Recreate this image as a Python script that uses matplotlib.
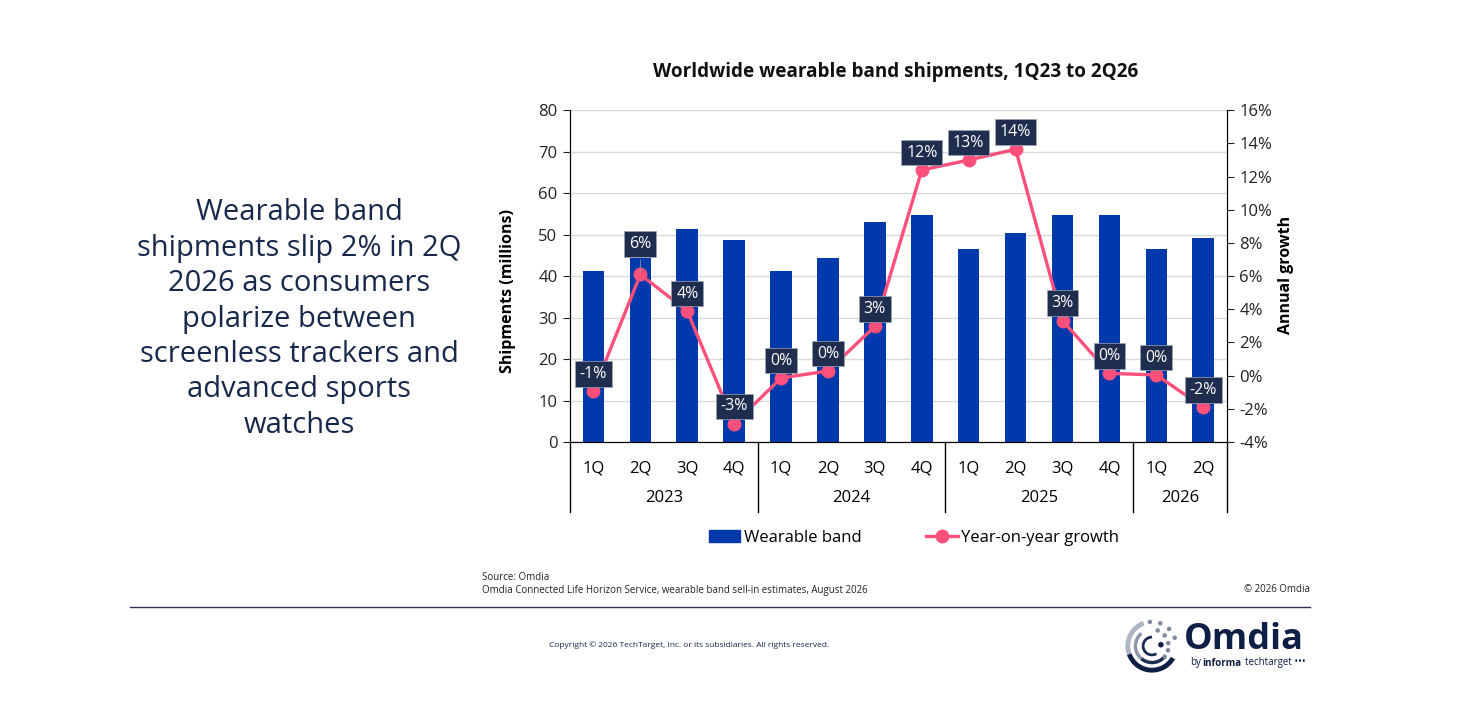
#!/usr/bin/env python3
"""Worldwide wearable band shipments, 1Q23 to 2Q26"""
import math
import matplotlib.pyplot as plt
from matplotlib import transforms
from matplotlib.patches import Arc, Circle, Patch
from matplotlib.lines import Line2D

plt.rcParams["font.family"] = ["Open Sans", "DejaVu Sans"]

quarters = ["1Q", "2Q", "3Q", "4Q", "1Q", "2Q", "3Q", "4Q", "1Q", "2Q", "3Q", "4Q", "1Q", "2Q"]
years = ["2023", "2024", "2025", "2026"]
year_counts = [4, 4, 4, 2]
shipments = [41.2, 44.3, 51.4, 48.6, 41.2, 44.3, 53.1, 54.7, 46.6, 50.4, 54.7, 54.7, 46.6, 49.3]
growth = [-0.94, 6.1, 3.9, -2.9, -0.14, 0.28, 2.98, 12.4, 13.0, 13.65, 3.32, 0.14, 0.04, -1.9]
growth_labels = ["-1%", "6%", "4%", "-3%", "0%", "0%", "3%", "12%", "13%", "14%", "3%", "0%", "0%", "-2%"]

BLUE = "#0039AC"
PINK = "#FF4F7B"
NAVY = "#1F2D4F"
TEXT_NAVY = "#17294B"

W, H = 1470, 716
fig = plt.figure(figsize=(14.7, 7.16), dpi=100)

def fx(px):
    return px / W

def fy(py):
    return 1 - py / H

ax_l, ax_r, ax_t, ax_b = 570, 1226.7, 110.3, 442
ax = fig.add_axes([fx(ax_l), fy(ax_b), fx(ax_r - ax_l), (ax_b - ax_t) / H])
x = list(range(len(shipments)))

ax.bar(x, shipments, width=0.46, color=BLUE, zorder=2)
ax.set_xlim(-0.5, len(x) - 0.5)
ax.set_ylim(0, 80)
ax.set_yticks(range(0, 81, 10))
ax.grid(axis="y", color="#d9d9d9", lw=1)
ax.set_axisbelow(True)
ax.spines["top"].set_visible(False)
ax.tick_params(axis="y", labelsize=12, length=5, colors="#222222", pad=4)
ax.set_xticks(x)
ax.set_xticklabels(quarters, fontsize=12)
ax.tick_params(axis="x", length=0, pad=13)

# year group labels and separators
trans = transforms.blended_transform_factory(ax.transData, ax.transAxes)
sep_depth = -(512 - ax_b) / (ax_b - ax_t)
start = 0
for yr, n in zip(years, year_counts):
    ax.text(start + (n - 1) / 2, -(498 - ax_b) / (ax_b - ax_t), yr, transform=trans,
            ha="center", va="center", fontsize=12)
    ax.plot([start - 0.5, start - 0.5], [0, sep_depth], transform=trans, color="black",
            lw=1, clip_on=False)
    start += n
ax.plot([start - 0.5, start - 0.5], [0, sep_depth], transform=trans, color="black",
        lw=1, clip_on=False)

ax2 = ax.twinx()
ax2.set_ylim(-4, 16)
ax2.set_yticks(range(-4, 17, 2))
ax2.set_yticklabels([f"{v}%" for v in range(-4, 17, 2)])
ax2.tick_params(axis="y", labelsize=12, length=5, colors="#222222", pad=4)
ax2.spines["top"].set_visible(False)
ax2.plot(x, growth, color=PINK, lw=2.4, marker="o", ms=9, zorder=3)

for i, (g, lab) in enumerate(zip(growth, growth_labels)):
    off = 22 if i == 1 else 12.5
    ax2.annotate(lab, xy=(i, g), xytext=(0, off), textcoords="offset points",
                 ha="center", va="center", color="white", fontsize=11.5, zorder=5,
                 bbox=dict(boxstyle="square,pad=0.3", fc=NAVY, ec="#9aa3b5", lw=0.5),
                 arrowprops=dict(arrowstyle="-", color="#999999", lw=0.6) if i == 1 else None)

fig.text(fx(508), fy(291), "Shipments (millions)", rotation=90, ha="center", va="center",
         fontsize=11.5, fontweight="bold")
fig.text(fx(1286), fy(275), "Annual growth", rotation=90, ha="center", va="center",
         fontsize=11.5, fontweight="bold")

fig.text(fx(896), fy(72), "Worldwide wearable band shipments, 1Q23 to 2Q26", ha="center",
         va="center", fontsize=13.6, fontweight="bold", color="#111111")

handles = [Patch(color=BLUE), Line2D([0], [0], color=PINK, lw=2.4, marker="o", ms=9)]
fig.legend(handles, ["Wearable band", "Year-on-year growth"], loc="center",
           bbox_to_anchor=(fx(914), fy(538)), ncol=2, frameon=False, fontsize=12,
           handlelength=1.9, handletextpad=0.2, columnspacing=3.9)

fig.text(fx(299), fy(319),
         "Wearable band\nshipments slip 2% in 2Q\n2026 as consumers\npolarize between\n"
         "screenless trackers and\nadvanced sports\nwatches",
         ha="center", va="center", fontsize=21, color=TEXT_NAVY, linespacing=1.29)

fig.text(fx(482), fy(578), "Source: Omdia", fontsize=7, va="center", color="#222222")
fig.text(fx(482), fy(590),
         "Omdia Connected Life Horizon Service, wearable band sell-in estimates, August 2026",
         fontsize=7, va="center", color="#222222")
fig.text(fx(1310), fy(590), "\u00a9 2026 Omdia", fontsize=7, va="center", ha="right",
         color="#222222")
fig.add_artist(Line2D([fx(130), fx(1310)], [fy(607), fy(607)], color="#2B3553", lw=1))
fig.text(fx(689), fy(645),
         "Copyright \u00a9 2026 TechTarget, Inc. or its subsidiaries. All rights reserved.",
         fontsize=6, ha="center", va="center", color=TEXT_NAVY)

# Omdia logo
lg = fig.add_axes([fx(1124), fy(674), fx(56), 56 / H])
lg.set_xlim(-1.1, 1.1)
lg.set_ylim(-1.1, 1.1)
lg.set_aspect("equal")
lg.axis("off")
lg.add_patch(Arc((0, 0), 1.9, 1.9, theta1=110, theta2=200, lw=3.5, color="#aeb6c6"))
lg.add_patch(Arc((0, 0), 1.9, 1.9, theta1=200, theta2=330, lw=3.5, color="#0d1f45"))
lg.add_patch(Arc((0, 0), 1.3, 1.3, theta1=130, theta2=230, lw=2.5, color="#8e98ad"))
lg.add_patch(Arc((0, 0), 1.3, 1.3, theta1=230, theta2=320, lw=2.5, color="#1d2d55"))
lg.add_patch(Arc((0, 0), 0.7, 0.7, theta1=90, theta2=300, lw=2, color="#1d2d55"))
for ang, r in [(95, 0.95), (70, 0.95), (45, 0.95), (20, 0.95), (70, 0.65), (40, 0.65),
               (10, 0.65), (-15, 0.65), (-40, 0.65)]:
    lg.add_patch(Circle((r * math.cos(math.radians(ang)), r * math.sin(math.radians(ang))),
                        0.06, color="#7d889f"))
lg.add_patch(Circle((0.35, 0.05), 0.08, color="#0d1f45"))
fig.text(fx(1184), fy(640), "Omdia", fontsize=26, fontweight="bold", color="#0d1f45",
         va="center", ha="left")
fig.text(fx(1190), fy(663), "by", fontsize=7, color="#0d1f45", va="center")
fig.text(fx(1202), fy(663), "informa", fontsize=7, fontweight="bold", color="#0d1f45",
         va="center")
fig.text(fx(1245), fy(663), "techtarget \u2022\u2022\u2022", fontsize=7, color="#0d1f45",
         va="center")

fig.savefig("out.png", dpi=100, facecolor="white")
